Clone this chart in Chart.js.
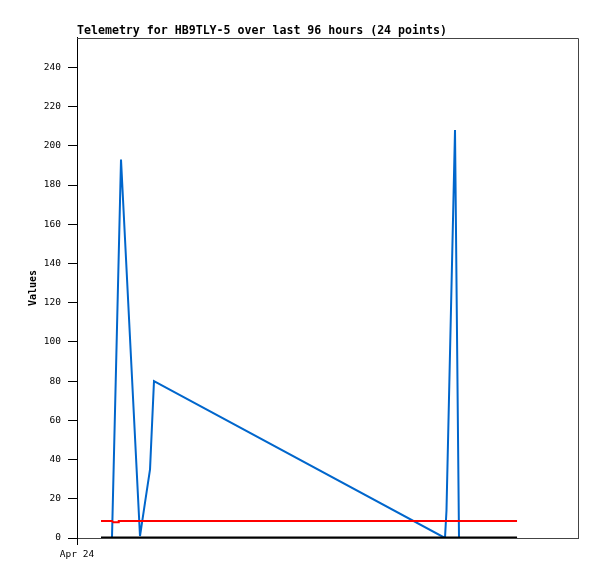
<!DOCTYPE html>
<html>
<head>
<meta charset="utf-8">
<script src="https://cdn.jsdelivr.net/npm/chart.js@4/dist/chart.umd.min.js"></script>
<style>html,body{margin:0;padding:0;background:#fff;}canvas{display:block;}</style>
</head>
<body>
<canvas id="c" width="597" height="579"></canvas>
<script>
// Hours since Apr 24 00:00
const titleText = 'Telemetry for HB9TLY-5 over last 96 hours (24 points)';
const yAxisTitle = 'Values';
const xTickValues = [0];
const xTickLabels = ['Apr 24'];
const yTickValues = [0, 20, 40, 60, 80, 100, 120, 140, 160, 180, 200, 220, 240];

const blueHours  = [5.75, 8.38, 10.54, 15.09, 16.29, 17.49, 18.44, 88.14, 88.5, 90.54, 91.5, 105.4];
const blueValues = [0,    0,    193,   1,     18,    35,    80,    0,     14,   208,   0,    0];

const redHours  = [5.75, 8.4, 8.69, 9.89, 10.0, 105.4];
const redValues = [8.7,  8.7, 8.0,  8.0,  8.7,  8.7];

const blackHours  = [5.75, 105.4];
const blackValues = [0, 0];

const toPts = (xs, ys) => xs.map((x, i) => ({x: x, y: ys[i]}));
const mono = "'DejaVu Sans Mono', 'Liberation Mono', monospace";

const framePlugin = {
  id: 'frame',
  beforeDatasetsDraw(chart) {
    const a = chart.chartArea, ctx = chart.ctx;
    ctx.save();
    ctx.strokeStyle = '#444';
    ctx.lineWidth = 1;
    ctx.beginPath();
    ctx.moveTo(Math.round(a.left), Math.round(a.top) + 0.5);
    ctx.lineTo(Math.round(a.right) + 0.5, Math.round(a.top) + 0.5);
    ctx.lineTo(Math.round(a.right) + 0.5, Math.round(a.bottom));
    ctx.stroke();
    ctx.restore();
  }
};

new Chart(document.getElementById('c'), {
  type: 'line',
  data: {
    datasets: [
      {data: toPts(blackHours, blackValues), borderColor: '#000', borderWidth: 3, pointRadius: 0, tension: 0},
      {data: toPts(redHours, redValues), borderColor: '#ff0000', borderWidth: 2, pointRadius: 0, tension: 0},
      {data: toPts(blueHours, blueValues), borderColor: '#0066cc', borderWidth: 2, pointRadius: 0, tension: 0}
    ]
  },
  options: {
    responsive: false,
    animation: false,
    layout: {padding: {left: 0, right: 19, top: 0, bottom: 0}},
    plugins: {
      legend: {display: false},
      tooltip: {enabled: false},
      title: {
        display: true, text: titleText, align: 'start', fullSize: false,
        color: '#000', font: {family: mono, size: 11.6, weight: 'bold', lineHeight: 1.2},
        padding: {top: 24, bottom: 0}
      }
    },
    scales: {
      x: {
        type: 'linear', min: 0, max: 120,
        afterBuildTicks: s => { s.ticks = xTickValues.map(v => ({value: v})); },
        afterFit: s => { s.height = 41; },
        ticks: {
          color: '#000', font: {family: mono, size: 9.5}, padding: 4, maxRotation: 0,
          callback: (v) => { const i = xTickValues.indexOf(v); return i >= 0 ? xTickLabels[i] : ''; }
        },
        grid: {drawOnChartArea: false, drawTicks: true, tickLength: 7, color: '#000'},
        border: {color: '#444', width: 1}
      },
      y: {
        min: 0, max: 255,
        afterBuildTicks: s => { s.ticks = yTickValues.map(v => ({value: v})); },
        afterFit: s => { s.width = 77; },
        ticks: {color: '#000', font: {family: mono, size: 9.5}, padding: 7},
        grid: {drawOnChartArea: false, drawTicks: true, tickLength: 9, color: '#000'},
        border: {color: '#000', width: 1},
        title: {
          display: true, text: yAxisTitle, color: '#000',
          font: {family: mono, size: 10, weight: 'bold'},
          padding: {top: 27, bottom: 0}
        }
      }
    }
  },
  plugins: [framePlugin]
});
</script>
</body>
</html>
